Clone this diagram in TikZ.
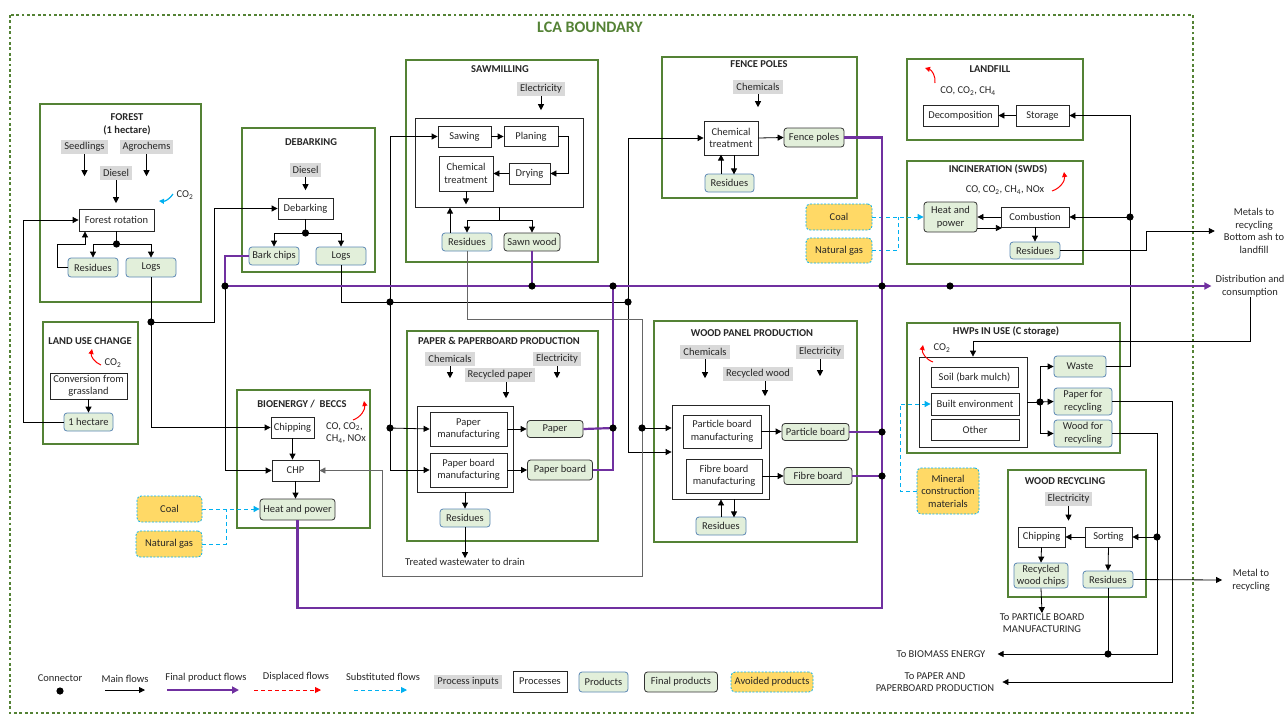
\documentclass[tikz,border=0pt]{standalone}
\usepackage{fontspec}
\setmainfont{Carlito}
\usetikzlibrary{arrows.meta}

\definecolor{lcagreen}{RGB}{84,130,53}
\definecolor{prodfill}{RGB}{226,239,218}
\definecolor{prodedge}{RGB}{91,135,180}
\definecolor{inputgray}{RGB}{217,217,217}
\definecolor{avoidfill}{RGB}{255,217,102}
\definecolor{subblue}{RGB}{0,176,240}
\definecolor{finpurple}{RGB}{112,48,160}

\tikzset{wh/.style 2 args={minimum width=#1,minimum height=#2}}

\begin{document}
\begin{tikzpicture}[x=1pt,y=-1pt,font=\fontsize{10.5}{12.5}\selectfont]
\tikzstyle{every node}+=[inner sep=0pt,align=center,text=black!85]
\tikzstyle{stage}=[draw=lcagreen,line width=1.6pt]
\tikzstyle{stagetitle}=[font=\fontsize{10.5}{13}\selectfont\bfseries]
\tikzstyle{proc}=[draw=black!85,line width=0.8pt,fill=white]
\tikzstyle{prod}=[draw=prodedge,line width=0.8pt,fill=prodfill,rounded corners=3pt]
\tikzstyle{finprod}=[draw=black!80,line width=0.8pt,fill=prodfill,rounded corners=3pt]
\tikzstyle{pinput}=[fill=inputgray,inner xsep=3pt,inner ysep=2pt,minimum height=14]
\tikzstyle{avoided}=[draw=subblue,line width=0.8pt,dash pattern=on 2pt off 1.5pt,fill=avoidfill,rounded corners=4pt]
\tikzstyle{flow}=[black,line width=0.8pt,-{Triangle[length=6pt,width=6pt]}]
\tikzstyle{plain}=[black,line width=0.8pt]
\tikzstyle{fin}=[finpurple,line width=2.2pt]
\tikzstyle{sub}=[subblue,line width=0.9pt,dash pattern=on 4pt off 3pt]
\tikzstyle{subflow}=[sub,-{Triangle[length=6pt,width=6pt]}]
\tikzstyle{emit}=[red,line width=1pt,-{Triangle[length=5pt,width=5pt]}]
\tikzstyle{uptake}=[subblue,line width=1.2pt,-{Triangle[length=5pt,width=5pt]}]

\useasboundingbox (0,0) rectangle (1288,715);
\draw [lcagreen,line width=2.8pt,dash pattern=on 2.8pt off 2.6pt] (10,15) rectangle (1193,713);
\draw (590,27) node [text=lcagreen,font=\fontsize{16}{18}\selectfont\bfseries] (lcatitle) {LCA BOUNDARY};

\draw [stage] (40,104) rectangle (201,302);
\draw [stage] (242,128) rectangle (375,272);
\draw [stage] (406,60) rectangle (598,262);
\draw [stage] (662,57) rectangle (857,198);
\draw [stage] (907,59) rectangle (1083,140);
\draw [stage] (907,161) rectangle (1083,264);
\draw [stage] (43,322) rectangle (138,444);
\draw [stage] (237,390) rectangle (370,528);
\draw [stage] (407,331) rectangle (598,541);
\draw [stage] (654,321) rectangle (857,542);
\draw [stage] (907,323) rectangle (1120,453);
\draw [stage] (1008,470) rectangle (1146,597);

\draw (127,124) node [stagetitle] (tforest) {FOREST\\(1 hectare)};
\draw (311,142) node [stagetitle] (tdebark) {DEBARKING};
\draw (500,69) node [stagetitle] (tsaw) {SAWMILLING};
\draw (759,64) node [stagetitle] (tfence) {FENCE POLES};
\draw (990,69) node [stagetitle] (tland) {LANDFILL};
\draw (998,169) node [stagetitle] (tinc) {INCINERATION (SWDS)};
\draw (90,341) node [stagetitle] (tluc) {LAND USE CHANGE};
\draw (302,404) node [stagetitle] (tbio) {BIOENERGY /\ \ BECCS};
\draw (499,341) node [stagetitle] (tpaper) {PAPER \& PAPERBOARD PRODUCTION};
\draw (752,333) node [stagetitle] (tpanel) {WOOD PANEL PRODUCTION};
\draw (1006,331) node [stagetitle] (thwp) {HWPs IN USE (C storage)};
\draw (1065,481) node [stagetitle] (trec) {WOOD RECYCLING};

\draw (84.5,147) node [pinput] (seed) {Seedlings};
\draw (146.5,147) node [pinput] (agro) {Agrochems};
\draw (116,173) node [pinput] (fdiesel) {Diesel};
\draw (185,195) node (fco) {CO\textsubscript{2}};
\draw (116.5,220) node [proc,wh={75}{22}] (frot) {Forest rotation};
\draw (93,267.5) node [prod,wh={50}{19}] (fres) {Residues};
\draw (151,267.5) node [prod,wh={50}{19}] (flogs) {Logs};

\draw (305.5,170) node [pinput] (ddiesel) {Diesel};
\draw (305.5,208.5) node [proc,wh={55}{21}] (debark) {Debarking};
\draw (274,256) node [prod,wh={50}{18}] (bark) {Bark chips};
\draw (341,256) node [prod,wh={50}{18}] (dlogs) {Logs};

\draw (541,89) node [pinput] (selec) {Electricity};
\draw (499,162.5) node [proc,wh={168}{89}] (sbig) {};
\draw (464.5,136.5) node [proc,wh={53}{21}] (sawing) {Sawing};
\draw (531,136.5) node [proc,wh={54}{20}] (planing) {Planing};
\draw (529.5,173.5) node [proc,wh={41}{21}] (drying) {Drying};
\draw (466,173.5) node [proc,wh={54}{35}] (schem) {Chemical\\treatment};
\draw (467,242) node [prod,wh={50}{18}] (sres) {Residues};
\draw (532,242) node [finprod,wh={56}{18}] (sawn) {Sawn wood};

\draw (758,87) node [pinput] (fchem) {Chemicals};
\draw (731,138) node [proc,wh={54}{34}] (ftreat) {Chemical\\treatment};
\draw (814,137.5) node [finprod,wh={60}{19}] (fpoles) {Fence poles};
\draw (729.5,183) node [prod,wh={49}{18}] (fpres) {Residues};
\draw (839,217) node [avoided,wh={66}{26}] (coalb) {Coal};
\draw (839,250.5) node [avoided,wh={66}{25}] (gasb) {Natural gas};

\draw (968,91) node (lfgas) {CO, CO\textsubscript{2}, CH\textsubscript{4}};
\draw (960.5,115.5) node [proc,wh={75}{21}] (decomp) {Decomposition};
\draw (1042.5,115.5) node [proc,wh={53}{21}] (storage) {Storage};

\draw (1005,190) node (incgas) {CO, CO\textsubscript{2}, CH\textsubscript{4}, NOx};
\draw (950.5,217) node [finprod,wh={53}{30}] (ihp) {Heat and\\power};
\draw (1035,217) node [proc,wh={68}{20}] (comb) {Combustion};
\draw (1035,250.5) node [prod,wh={50}{17}] (ires) {Residues};

\draw (113,363) node (luco) {CO\textsubscript{2}};
\draw (88.5,386) node [proc,wh={77}{26}] (conv) {Conversion from\\grassland};
\draw (88.5,422) node [prod,wh={49}{18}] (hect) {1 hectare};

\draw (346,433) node [align=left] (biogas) {CO, CO\textsubscript{2},\\CH\textsubscript{4}, NOx};
\draw (292.5,427.5) node [proc,wh={43}{21}] (chip) {Chipping};
\draw (295.5,470.5) node [proc,wh={47}{21}] (chp) {CHP};
\draw (297.5,509.5) node [finprod,wh={75}{21}] (bhp) {Heat and power};
\draw (169.5,509) node [avoided,wh={65}{26}] (coala) {Coal};
\draw (169,544) node [avoided,wh={66}{26}] (gasa) {Natural gas};

\draw (450,359) node [pinput] (pchem) {Chemicals};
\draw (557,359) node [pinput] (pelec) {Electricity};
\draw (500,375) node [pinput] (precyc) {Recycled paper};
\draw (465,449) node [proc,wh={96}{86}] (pbig) {};
\draw (468.5,429) node [proc,wh={77}{34}] (pman) {Paper\\manufacturing};
\draw (468.5,470) node [proc,wh={77}{34}] (pbman) {Paper board\\manufacturing};
\draw (555,429) node [finprod,wh={56}{17}] (paper) {Paper};
\draw (560,470) node [finprod,wh={65}{20}] (pboard) {Paper board};
\draw (465,518) node [prod,wh={50}{18}] (pres) {Residues};
\draw (465,562) node (drain) {Treated wastewater to drain};

\draw (705,352) node [pinput] (wchem) {Chemicals};
\draw (820,352) node [pinput] (welec) {Electricity};
\draw (758,374) node [pinput] (wrecyc) {Recycled wood};
\draw (720.5,452) node [proc,wh={97}{94}] (wbig) {};
\draw (722,431.5) node [proc,wh={78}{33}] (partman) {Particle board\\manufacturing};
\draw (724,476) node [proc,wh={76}{34}] (fibman) {Fibre board\\manufacturing};
\draw (815.5,432) node [finprod,wh={67}{17}] (partb) {Particle board};
\draw (818,476) node [finprod,wh={68}{17}] (fibb) {Fibre board};
\draw (721,526) node [prod,wh={50}{18}] (wres) {Residues};

\draw (942,348) node (hwco) {CO\textsubscript{2}};
\draw (973,402) node [proc,wh={108}{90}] (hbig) {};
\draw (974.5,377) node [proc,wh={87}{20}] (soil) {Soil (bark mulch)};
\draw (975,404) node [proc,wh={88}{22}] (built) {Built environment};
\draw (975,429.5) node [proc,wh={88}{21}] (other) {Other};
\draw (1080,366.5) node [prod,wh={52}{21}] (waste) {Waste};
\draw (1083,401.5) node [prod,wh={58}{27}] (ppr) {Paper for\\recycling};
\draw (1083,433.5) node [prod,wh={58}{27}] (wfr) {Wood for\\recycling};
\draw (948,491) node [avoided,wh={62}{46}] (mineral) {Mineral\\construction\\materials};

\draw (1068.5,498.5) node [pinput] (relec) {Electricity};
\draw (1041.5,537) node [proc,wh={47}{20}] (rchip) {Chipping};
\draw (1108.5,537) node [proc,wh={47}{20}] (sort) {Sorting};
\draw (1041,575.5) node [prod,wh={54}{25}] (rwc) {Recycled\\wood chips};
\draw (1108,579.5) node [prod,wh={50}{17}] (rres) {Residues};
\draw (1042,623) node (topart) {To PARTICLE BOARD\\MANUFACTURING};
\draw (941,654) node (tobio) {To BIOMASS ENERGY};
\draw (935,682) node (topaper) {To PAPER AND\\PAPERBOARD PRODUCTION};
\draw (1251,580) node (metal) {Metal to\\recycling};
\draw (1254,231) node (metals) {Metals to\\recycling\\Bottom ash to\\landfill};
\draw (1250,286) node (dist) {Distribution and\\consumption};

\coordinate (fdot) at (116.5,244);
\coordinate (rloop) at (85,244);
\coordinate (lgdot) at (151,322);
\coordinate (ddot) at (305.5,233);
\coordinate (pdota) at (225,286);
\coordinate (logdota) at (390,302);
\coordinate (logdotb) at (628,302);
\coordinate (pmdot) at (390,428);
\coordinate (wdot) at (642,428);
\coordinate (swdot) at (532,286);
\coordinate (ppdot) at (613,428);
\coordinate (pmain) at (613,286);
\coordinate (fpdot) at (882,286);
\coordinate (pbdot) at (882,432);
\coordinate (fbdot) at (882,476);
\coordinate (edot) at (950,286);
\coordinate (cdot) at (1130,217);
\coordinate (hdot) at (1040,402);
\coordinate (sdot) at (1157,537);
\coordinate (bdot) at (1108,654);

\draw [flow] (seed.south) -- ++(0,22);
\draw [flow] (agro.south) -- ++(0,22);
\draw [flow] (fdiesel.south) -- ++(0,23);
\draw [uptake] (173,194) to [bend left=30] (159,201);
\draw [plain] (frot.south) -- (fdot);
\draw [flow] (fdot) -| (fres.north);
\draw [flow] (fdot) -| (flogs.north);
\draw [flow] (fres.west) -- ++(-10,0) |- (rloop) -- (rloop |- frot.south);
\draw [flow] (hect.west) -| (23,220) -- (frot.west);
\draw [plain] (flogs.south) -- (lgdot);
\draw [flow] (lgdot) |- (chip.west);
\draw [flow] (lgdot) -| (214,208.5) -- (debark.west);

\draw [flow] (ddiesel.south) -- ++(0,13);
\draw [plain] (debark.south) -- (ddot);
\draw [flow] (ddot) -| (bark.north);
\draw [flow] (ddot) -| (dlogs.north);
\draw [flow] (pdota) |- (chp.west);
\draw [plain] (dlogs.south) |- (logdotb);
\draw [flow] (logdota) |- (sawing.west);
\draw [plain] (logdota) -- (pmdot);
\draw [flow] (pmdot) -- (pman.west);
\draw [flow] (pmdot) |- (pbman.west);
\draw [flow] (logdotb) |- (ftreat.west);
\draw [flow] (logdotb) |- (wbig.west);

\draw [flow] (selec.south) -- ++(0,14);
\draw [flow] (sawing) -- (planing);
\draw [flow] (planing.east) -- ++(10,0) |- (drying.east);
\draw [flow] (drying) -- (schem);
\draw [flow] (schem.south) -- ++(0,13);
\draw [flow] (sbig.south) -- ++(0,12.5) -| (sres.north);
\draw [flow] (sbig.south) -- ++(0,12.5) -| (sawn.north);
\draw [flow] ([xshift=-17]sres.north) -- ++(0,-25);
\draw [plain,black!60] (sres.south) |- (642,319) -- (wdot);
\draw [flow] (wdot) -- (wdot -| wbig.west);
\draw [flow,black!60] (wdot) |- (382,576) |- (chp.east);

\draw [flow] (fchem.south) -- ++(0,13);
\draw [flow] (ftreat.east) -- (fpoles.west);
\draw [flow] ([xshift=-8.5]fpres.north) -- ++(0,-19);
\draw [flow] ([xshift=3]ftreat.south) -- ++(0,19);
\draw [subflow] (coalb.east) -- (ihp.west);
\draw [sub] (gasb.east) -| (898,217);

\draw [flow] (pchem.south) -- ++(0,12);
\draw [flow] (pelec.south) -- ++(0,12);
\draw [flow] ([xshift=6]precyc.south) -- ++(0,16);
\draw [flow] (pman.east) -- (paper.west);
\draw [flow] (pbman.east) -- (pboard.west);
\draw [flow] (pbig.south) -- (pres.north);
\draw [flow] (pres.south) -- (drain.north);

\draw [flow] (wchem.south) -- ++(0,19);
\draw [flow] (welec.south) -- ++(0,17);
\draw [flow] ([xshift=7]wrecyc.south) -- ++(0,15);
\draw [flow] (partman.east) -- (partman.east -| partb.west);
\draw [flow] (fibman.east) -- (fibb.west);
\draw [flow] (wres.north) -- (wres.north |- wbig.south);
\draw [flow] ([xshift=13.5]wbig.south) -- ++(0,18);

\draw [flow] (storage.west) -- (decomp.east);
\draw [emit] (935,83) to [bend right=40] (925,68);
\draw [emit] (1052,191) to [bend right=40] (1064,172);
\draw [flow] (comb.west) -- (ihp.east);
\draw [flow] ([yshift=-11]ihp.east) -- ++(24.5,0);
\draw [flow] (comb.south) -- (ires.north);
\draw [plain] (waste.east) -| (cdot);
\draw [flow] (cdot) -- (comb.east);
\draw [flow] (cdot) |- (storage.east);
\draw [flow] (ires.east) -| (1146,231) -- ([xshift=-9]metals.west);

\draw [flow] (dist.south) -- ++(0,44) -| (hbig.north);
\draw [emit] (933,362) to [bend left=40] (923,345);
\draw [plain] (hbig.east) -- (hdot);
\draw [flow] (hdot) |- (waste.west);
\draw [flow] (hdot) -- (ppr.west);
\draw [flow] (hdot) |- (wfr.west);
\draw [subflow] (mineral.west) -| (900,404) -- (built.west);
\draw [flow] (ppr.east) -| (1172,682) -- ([xshift=8]topaper.east);
\draw [plain] (wfr.east) -| (sdot);
\draw [flow] (sdot) -- (sort.east);
\draw [flow] (sdot) |- ([xshift=12]tobio.east);
\draw [plain] (rres.south) -- (bdot);

\draw [flow] (relec.south) -- ++(0,15);
\draw [flow] (sort.west) -- (rchip.east);
\draw [flow] (rchip.south) -- (rwc.north);
\draw [flow] (sort.south) -- (rres.north);
\draw [flow] (rwc.south) -- (topart.north);
\draw [flow] (rres.east) -- ([xshift=-10]metal.west);

\draw [emit] (101,365) to [bend left=40] (92,349);
\draw [flow] (conv.south) -- (hect.north);
\draw [emit] (353,420) to [bend right=40] (364,401);
\draw [flow] (chip.south) -- (chip.south |- chp.north);
\draw [flow] (chp.south) -- (chp.south |- bhp.north);
\draw [subflow] (coala.east) -- (coala.east -| bhp.west);
\draw [sub] (gasa.east) -| (226,509);

\draw [fin] (bark.west) -| (pdota);
\draw [fin,-{Triangle[length=7pt,width=7pt]}] (pdota) -- ([xshift=-4]pdota -| dist.west);
\draw [fin] (sawn.south) -- (swdot);
\draw [fin] (paper.east) -- (ppdot);
\draw [fin] (pboard.east) -| (ppdot);
\draw [fin] (ppdot) -- (pmain);
\draw [fin] (fpoles.east) -| (fpdot);
\draw [fin] (fpdot) -- (fbdot);
\draw [fin] (partb.east) -- (pbdot);
\draw [fin] (fibb.east) -- (fbdot);
\draw [fin] (bhp.south) |- (882,608) -- (fbdot);

\fill (fdot) circle (3.6pt);
\fill (lgdot) circle (3.6pt);
\fill (ddot) circle (3.6pt);
\fill (pdota) circle (3.6pt);
\fill (logdota) circle (3.6pt);
\fill (logdotb) circle (3.6pt);
\fill (pmdot) circle (3.6pt);
\fill (wdot) circle (3.6pt);
\fill (swdot) circle (3.6pt);
\fill (ppdot) circle (3.6pt);
\fill (pmain) circle (3.6pt);
\fill (fpdot) circle (3.6pt);
\fill (pbdot) circle (3.6pt);
\fill (fbdot) circle (3.6pt);
\fill (edot) circle (3.6pt);
\fill (cdot) circle (3.6pt);
\fill (hdot) circle (3.6pt);
\fill (sdot) circle (3.6pt);
\fill (bdot) circle (3.6pt);

\draw (60,678) node (lgconn) {Connector};
\fill (60,691) circle (3.6pt);
\draw (125,679) node (lgmain) {Main flows};
\draw [flow] (105,690) -- (145,690);
\draw (206,678) node (lgfin) {Final product flows};
\draw [fin,-{Triangle[length=7pt,width=7pt]}] (167,690) -- (239,690);
\draw (296,677) node (lgdisp) {Displaced flows};
\draw [red,line width=0.9pt,dash pattern=on 4pt off 3pt,-{Triangle[length=6pt,width=6pt]}] (254,690) -- (321,690);
\draw (383,677) node (lgsub) {Substituted flows};
\draw [subflow] (354,690) -- (407,690);
\draw (468,682) node [pinput] (lginput) {Process inputs};
\draw (540,681.5) node [proc,wh={54}{21}] (lgproc) {Processes};
\draw (603.5,682) node [prod,wh={49}{20}] (lgprod) {Products};
\draw (681,682) node [finprod,wh={73}{20}] (lgfinal) {Final products};
\draw (772,682) node [avoided,wh={82}{20}] (lgavoid) {Avoided products};
\end{tikzpicture}
\end{document}
